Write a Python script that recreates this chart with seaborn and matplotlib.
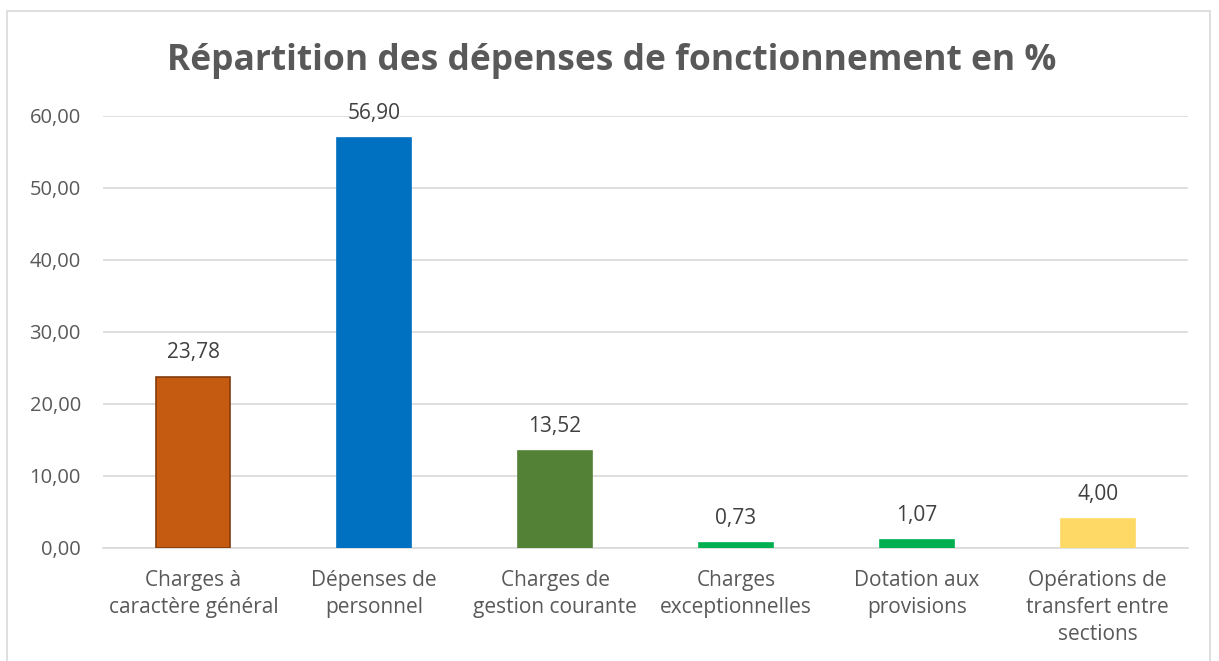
import matplotlib
matplotlib.use("Agg")
import matplotlib.pyplot as plt
import seaborn as sns
import pandas as pd
from matplotlib.ticker import FuncFormatter, MultipleLocator
from matplotlib.patches import Rectangle

categories = ["Charges à\ncaractère général", "Dépenses de\npersonnel", "Charges de\ngestion courante",
              "Charges\nexceptionnelles", "Dotation aux\nprovisions", "Opérations de\ntransfert entre\nsections"]
values = [23.78, 56.90, 13.52, 0.73, 1.07, 4.00]
colors = ["#C55A11", "#0070C0", "#538135", "#00B050", "#00B050", "#FFD966"]
edge_colors = ["#843C0C", "#0070C0", "#538135", "#00B050", "#00B050", "#FFD966"]
title = "Répartition des dépenses de fonctionnement en %"

sns.set_theme(style="white")
plt.rcParams['font.family'] = ['Open Sans', 'DejaVu Sans']

df = pd.DataFrame({"cat": categories, "val": values})

fig = plt.figure(figsize=(12.19, 6.61), dpi=100)
ax = fig.add_axes([103/1219, 1-548/661, (1188-103)/1219, (548-116)/661])

sns.barplot(data=df, x="cat", y="val", hue="cat", palette=colors, width=0.41,
            legend=False, ax=ax, saturation=1)
for p, ec in zip(ax.patches, edge_colors):
    p.set_edgecolor(ec)
    p.set_linewidth(1.2)
    p.set_zorder(3)

ax.set_ylim(0, 60)
ax.yaxis.set_major_locator(MultipleLocator(10))
ax.yaxis.set_major_formatter(FuncFormatter(lambda v, _: f"{v:.2f}".replace(".", ",")))
ax.grid(axis="y", color="#D9D9D9", linewidth=1.2, zorder=0)
ax.set_axisbelow(True)
for s in ["top", "right", "left"]:
    ax.spines[s].set_visible(False)
ax.spines["bottom"].set_color("#D9D9D9")
ax.spines["bottom"].set_linewidth(1.2)
ax.set_xlabel("")
ax.set_ylabel("")
ax.tick_params(axis="both", length=0, labelcolor="#595959")
ax.tick_params(axis="y", pad=16, labelsize=14.5)
ax.tick_params(axis="x", pad=16, labelsize=15)
for lbl in ax.get_xticklabels():
    lbl.set_linespacing(1.38)
    lbl.set_verticalalignment("top")

for cont in ax.containers:
    vals = [f"{p.get_height():.2f}".replace(".", ",") for p in cont]
    ax.bar_label(cont, labels=vals, padding=10, fontsize=15, color="#404040")

fig.text(612/1219, 1-61/661, title, ha="center", va="center", fontsize=25.5,
         fontweight="bold", color="#595959")

fig.patches.append(Rectangle((7/1219, -0.1), (1210-7)/1219, 1.1-11/661,
                             transform=fig.transFigure, fill=False,
                             edgecolor="#D9D9D9", linewidth=1.2))

fig.savefig("out.png", dpi=100)
